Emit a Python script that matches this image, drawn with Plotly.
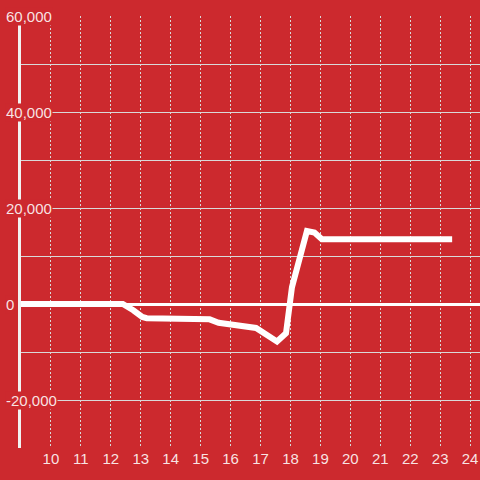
import plotly.graph_objects as go

# Data
x_vals = [9, 12.4, 12.75, 13.05, 13.2, 14, 14.5, 15.3, 15.6, 15.75, 16.3, 16.85,
          17.55, 17.85, 18.05, 18.3, 18.55, 18.8, 19.05, 23.4]
y_vals = [0, 0, -1300, -2700, -2950, -3000, -3150, -3200, -3900, -4000, -4600, -5000,
          -7800, -6100, 3500, 9000, 15200, 14900, 13500, 13500]

x_ticks = list(range(10, 25))
y_label_vals = [60000, 40000, 20000, 0, -20000]
y_label_text = ["60,000", "40,000", "20,000", "0", "-20,000"]

BG = "#CC292E"
TXT = "rgba(255,255,255,0.88)"
GRID = "#D9D9D9"
FONT = "Liberation Sans, Arial, sans-serif"

fig = go.Figure()
fig.add_trace(go.Scatter(
    x=x_vals, y=y_vals, mode="lines",
    line=dict(color="white", width=6),
    hoverinfo="skip", showlegend=False,
))

annotations = []
for v, t in zip(y_label_vals, y_label_text):
    annotations.append(dict(
        x=-0.035, xref="paper", xanchor="left",
        y=v, yref="y", yanchor="middle",
        text=t, showarrow=False, bgcolor=BG, borderpad=0,
        font=dict(family=FONT, size=15, color=TXT),
    ))

fig.update_layout(
    width=480, height=480,
    margin=dict(l=21, r=0, t=16, b=32),
    paper_bgcolor=BG, plot_bgcolor=BG,
    font=dict(family=FONT, size=15, color=TXT),
    showlegend=False,
    annotations=annotations,
    xaxis=dict(
        range=[9, 24.33],
        tickmode="array", tickvals=x_ticks, ticktext=[str(t) for t in x_ticks],
        showgrid=True, gridcolor=GRID, gridwidth=1, griddash="2px,2px",
        showline=False, zeroline=False, ticks="",
        tickfont=dict(family=FONT, size=15, color=TXT),
        fixedrange=True,
    ),
    yaxis=dict(
        range=[-30000, 60000],
        dtick=10000, tick0=0,
        showgrid=True, gridcolor=GRID, gridwidth=1,
        showticklabels=False, ticks="",
        showline=True, linecolor="#F2F2F2", linewidth=3,
        zeroline=True, zerolinecolor="white", zerolinewidth=3,
        fixedrange=True,
    ),
)

fig.write_html(
    "out.html",
    config={"displayModeBar": False},
    post_script="document.body.style.margin='0';document.body.style.padding='0';",
)
